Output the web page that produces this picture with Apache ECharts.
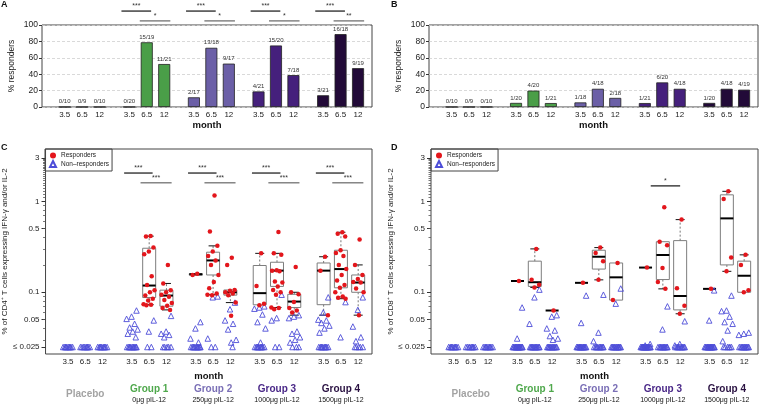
<!DOCTYPE html>
<html>
<head>
<meta charset="utf-8">
<script src="https://cdn.jsdelivr.net/npm/echarts@6/dist/echarts.min.js"></script>
<style>
  html, body { margin: 0; padding: 0; background: #fff; }
  #chart { width: 760px; height: 405px; }
</style>
</head>
<body>
<div id="chart"></div>
<script>
// ---- data ----
var months = ['3.5', '6.5', '12'];
var groupNames = ['Placebo', 'Group 1', 'Group 2', 'Group 3', 'Group 4'];
var groupDoses = ['', '0\u03bcg pIL-12', '250\u03bcg pIL-12', '1000\u03bcg pIL-12', '1500\u03bcg pIL-12'];

// panel A / B: % responders per group x month
var aPct = [0, 0, 0, 0, 78.9, 52.4, 11.8, 72.2, 52.9, 19.0, 75.0, 38.9, 14.3, 88.9, 47.4];
var aLabels = ['0/10', '0/9', '0/10', '0/20', '15/19', '11/21', '2/17', '13/18', '9/17', '4/21', '15/20', '7/18', '3/21', '16/18', '9/19'];
var bPct = [0, 0, 0, 5.0, 20.0, 4.8, 5.6, 22.2, 11.1, 4.8, 30.0, 22.2, 5.0, 22.2, 21.1];
var bLabels = ['0/10', '0/9', '0/10', '1/20', '4/20', '1/21', '1/18', '4/18', '2/18', '1/21', '6/20', '4/18', '1/20', '4/18', '4/19'];
var aStars = [['***', '*'], ['***', '*'], ['***', '*'], ['***', '**']];   // groups 1-4
var cStars = [['***', '***'], ['***', '***'], ['***', '***'], ['***', '***']];

// panel C (CD4): responders, non-responders above the floor, count at the floor
var FLOOR = 0.025;
var cd4Resp = [
  [], [], [],
  [], [0.415, 0.41, 0.31, 0.28, 0.262, 0.15, 0.12, 0.105, 0.1, 0.092, 0.085, 0.081, 0.074, 0.073, 0.072],
  [0.2, 0.125, 0.105, 0.1, 0.094, 0.089, 0.082, 0.076, 0.071, 0.067, 0.064],
  [0.16, 0.155], [1.16, 0.465, 0.324, 0.28, 0.25, 0.224, 0.2, 0.155, 0.13, 0.111, 0.097, 0.093, 0.094],
  [0.24, 0.2, 0.106, 0.104, 0.1, 0.097, 0.093, 0.077, 0.055],
  [0.268, 0.117, 0.075, 0.072], [0.46, 0.268, 0.258, 0.175, 0.172, 0.17, 0.131, 0.128, 0.116, 0.106, 0.1, 0.094, 0.068, 0.067, 0.065],
  [0.19, 0.1, 0.095, 0.078, 0.067, 0.063, 0.06],
  [0.246, 0.173, 0.056], [0.457, 0.44, 0.41, 0.29, 0.27, 0.25, 0.2, 0.18, 0.155, 0.135, 0.12, 0.112, 0.1, 0.09, 0.087, 0.085],
  [0.38, 0.2, 0.155, 0.14, 0.13, 0.128, 0.11, 0.1, 0.056]
];
var cd4Non = [
  [], [], [],
  [0.063, 0.054, 0.051, 0.045, 0.041, 0.039, 0.037, 0.035, 0.032], [0.049, 0.037], [0.055, 0.037, 0.035, 0.034, 0.032],
  [0.047, 0.04, 0.031, 0.028], [0.09, 0.088, 0.031], [0.077, 0.065, 0.049, 0.045, 0.039, 0.03, 0.028],
  [0.07, 0.068, 0.066, 0.057, 0.047, 0.04, 0.028], [0.094, 0.052, 0.049], [0.056, 0.054, 0.052, 0.037, 0.035, 0.032, 0.03, 0.028],
  [0.088, 0.06, 0.05, 0.049, 0.046, 0.043, 0.04, 0.036], [0.078, 0.032], [0.088, 0.064, 0.042, 0.032, 0.029]
];
var cd4Floor = [10, 9, 10, 11, 2, 5, 11, 2, 1, 10, 2, 3, 10, 0, 5];
// box stats [min, q1, median, q3, max]
var cd4Box = [
  null, null, null,
  null, [0.073, 0.0875, 0.1186, 0.305, 0.414], [0.064, 0.0703, 0.092, 0.1055, 0.125],
  [0.155, 0.155, 0.158, 0.16, 0.16], [0.094, 0.155, 0.224, 0.276, 0.324], [0.077, 0.093, 0.1, 0.106, 0.106],
  [0.072, 0.0728, 0.0978, 0.197, 0.268], [0.068, 0.116, 0.173, 0.214, 0.268], [0.056, 0.068, 0.079, 0.095, 0.1],
  [0.056, 0.073, 0.173, 0.21, 0.246], [0.085, 0.112, 0.18, 0.29, 0.457], [0.056, 0.1, 0.128, 0.155, 0.2]
];

// panel D (CD8)
var cd8Resp = [
  [], [], [],
  [0.133], [0.3, 0.137, 0.121, 0.113], [0.063],
  [0.127], [0.31, 0.27, 0.22, 0.137], [0.21, 0.082],
  [0.187], [0.86, 0.36, 0.33, 0.185, 0.13, 0.109], [0.63, 0.111, 0.071, 0.058],
  [0.109], [1.29, 1.06, 0.242, 0.17], [0.258, 0.2, 0.105, 0.1]
];
var cd8Non = [
  [], [], [],
  [0.068, 0.031], [0.107, 0.088, 0.045], [0.056, 0.054, 0.04, 0.038, 0.033, 0.031, 0.03],
  [0.092, 0.046], [0.094, 0.036, 0.029], [0.11, 0.075],
  [0.027, 0.026], [0.07, 0.039], [0.048, 0.027, 0.026],
  [0.105, 0.049], [0.092, 0.063, 0.062, 0.054, 0.047, 0.045, 0.038, 0.029], [0.036, 0.035, 0.034]
];
var cd8Floor = [10, 9, 10, 17, 13, 13, 15, 11, 14, 18, 12, 11, 17, 6, 12];
var cd8Box = [
  null, null, null,
  [0.133, 0.133, 0.133, 0.133, 0.133], [0.113, 0.116, 0.129, 0.22, 0.3], [0.063, 0.063, 0.063, 0.063, 0.063],
  [0.127, 0.127, 0.127, 0.127, 0.127], [0.137, 0.18, 0.246, 0.29, 0.31], [0.082, 0.082, 0.146, 0.21, 0.21],
  [0.187, 0.187, 0.187, 0.187, 0.187], [0.109, 0.138, 0.257, 0.36, 0.36], [0.058, 0.064, 0.091, 0.37, 0.63],
  [0.109, 0.109, 0.109, 0.109, 0.109], [0.17, 0.2, 0.65, 1.18, 1.29], [0.1, 0.1, 0.152, 0.22, 0.258]
];

var logTicks = [0.025, 0.05, 0.1, 0.5, 1, 3];
var logTickLabels = ['\u2264 0.025', '0.05', '0.1', '0.5', '1', '3'];

// ---- layout helpers ----
var GROUP_STEP = 3.7;
var X_MIN = -1.3, X_MAX = 17.6;
var slotPos = [];
for (var i = 0; i < 15; i++) slotPos.push(Math.floor(i / 3) * GROUP_STEP + (i % 3));
var groupPos = [0, 1, 2, 3, 4].map(function (g) { return g * GROUP_STEP + 1; });
var Y_LO = Math.log10(FLOOR) - 0.077, Y_HI = Math.log10(3) + 0.099;

var barColors = ['#999999', '#4a9e48', '#6b5fa7', '#45207c', '#220a38'];
var nameColors = ['#a3a3a3', '#4fa84c', '#7a6fb6', '#4a2888', '#2a1242'];
var FONT = 'Liberation Sans, Arial, sans-serif';

var minorTicks = [];
for (var m = 3; m <= 9; m++) minorTicks.push(Math.log10(m / 100));
for (m = 2; m <= 9; m++) minorTicks.push(Math.log10(m / 10));
for (m = 11; m <= 29; m++) minorTicks.push(Math.log10(m / 10));

function jitter(k, spread) { return ((((k + 1) * 0.618034) % 1) - 0.5) * spread; }
function slotLabel(v) {
  for (var i = 0; i < slotPos.length; i++) if (Math.abs(slotPos[i] - v) < 1e-6) return months[i % 3];
  return '';
}
function logLabel(v) {
  for (var i = 0; i < logTicks.length; i++) if (Math.abs(Math.log10(logTicks[i]) - v) < 1e-6) return logTickLabels[i];
  return '';
}
function groupLabel(v) {
  for (var g = 0; g < groupPos.length; g++) {
    if (Math.abs(groupPos[g] - v) < 1e-6) {
      if (g === 0) return '{p|' + groupNames[0] + '}';
      return '{g' + g + '|' + groupNames[g] + '}\n{d|' + groupDoses[g] + '}';
    }
  }
  return '';
}

function barData(pct) {
  return pct.map(function (v, i) {
    return { value: [slotPos[i], v], itemStyle: { color: barColors[Math.floor(i / 3)] } };
  });
}
function respPoints(list) {
  var out = [];
  list.forEach(function (vals, i) {
    vals.forEach(function (v, k) { out.push([slotPos[i] + jitter(k, 0.7), Math.log10(v)]); });
  });
  return out;
}
function nonPoints(list, floors) {
  var out = [];
  list.forEach(function (vals, i) {
    vals.forEach(function (v, k) { out.push([slotPos[i] + jitter(k + 2, 0.75), Math.log10(v)]); });
    for (var k = 0; k < floors[i]; k++) out.push([slotPos[i] + jitter(k + 5, 0.6), Math.log10(FLOOR)]);
  });
  return out;
}
function boxData(box) {
  var out = [];
  box.forEach(function (b, i) {
    if (b) out.push([slotPos[i]].concat(b.map(function (v) { return Math.log10(v); })));
  });
  return out;
}
function sigList(stars, spans, levels) {
  var out = [];
  stars.forEach(function (pair, gi) {
    pair.forEach(function (s, lv) {
      var base = (gi + 1) * GROUP_STEP;
      out.push({ x1: base + spans[lv][0], x2: base + spans[lv][1], y: levels[lv], stars: s, level: lv });
    });
  });
  return out;
}

function renderBox(params, api) {
  var x = api.value(0);
  var ys = [1, 2, 3, 4, 5].map(function (k) { return api.coord([x, api.value(k)])[1]; });
  var cx = api.coord([x, api.value(3)])[0];
  var hw = 6.5, cw = 4.5, kids = [];
  var single = Math.abs(ys[0] - ys[4]) < 0.5;
  if (!single) {
    if (ys[0] - ys[1] > 0.5) {
      kids.push({ type: 'line', shape: { x1: cx, y1: ys[1], x2: cx, y2: ys[0] }, style: { stroke: '#777', lineWidth: 1, lineDash: [2, 2] } });
      kids.push({ type: 'line', shape: { x1: cx - cw, y1: ys[0], x2: cx + cw, y2: ys[0] }, style: { stroke: '#111', lineWidth: 1 } });
    }
    if (ys[3] - ys[4] > 0.5) {
      kids.push({ type: 'line', shape: { x1: cx, y1: ys[3], x2: cx, y2: ys[4] }, style: { stroke: '#777', lineWidth: 1, lineDash: [2, 2] } });
      kids.push({ type: 'line', shape: { x1: cx - cw, y1: ys[4], x2: cx + cw, y2: ys[4] }, style: { stroke: '#111', lineWidth: 1 } });
    }
    kids.push({ type: 'rect', shape: { x: cx - hw, y: ys[3], width: 2 * hw, height: Math.max(ys[1] - ys[3], 1.5) },
      style: { fill: 'none', stroke: '#7d7d7d', lineWidth: 1 } });
  }
  kids.push({ type: 'line', shape: { x1: cx - hw, y1: ys[2], x2: cx + hw, y2: ys[2] }, style: { stroke: '#000', lineWidth: 2 } });
  return { type: 'group', children: kids };
}

function sigSeries(list, xi, yi) {
  return {
    type: 'custom', xAxisIndex: xi, yAxisIndex: yi, silent: true, clip: false, z: 5,
    data: list.map(function (s) { return [s.x1, s.x2, s.y]; }),
    renderItem: function (params, api) {
      var s = list[params.dataIndex];
      var p1 = api.coord([api.value(0), api.value(2)]);
      var p2 = api.coord([api.value(1), api.value(2)]);
      return { type: 'group', children: [
        { type: 'line', shape: { x1: p1[0], y1: p1[1], x2: p2[0], y2: p2[1] },
          style: { stroke: s.level ? '#666' : '#111', lineWidth: 1.2 } },
        { type: 'text', style: { text: s.stars, x: (p1[0] + p2[0]) / 2, y: p1[1] - 1, align: 'center', verticalAlign: 'bottom',
          fontSize: 7, fontFamily: FONT, fill: '#333' } }
      ] };
    }
  };
}

var aSig = sigList(aStars, [[-0.45, 1.25], [0.6, 2.35]], [117, 105]);
var cSig = sigList(cStars, [[-0.45, 1.2], [0.5, 2.3]], [Math.log10(2.05), Math.log10(1.6)]);
var dSig = [{ x1: 3 * GROUP_STEP + 0.3, x2: 3 * GROUP_STEP + 2.0, y: Math.log10(1.48), stars: '*', level: 0 }];

// ---- axes ----
function monthAxis(gi, gap) {
  return {
    gridIndex: gi, type: 'value', min: X_MIN, max: X_MAX, position: 'bottom',
    axisLine: { show: false, onZero: false }, axisTick: { show: false }, splitLine: { show: false },
    axisLabel: { customValues: slotPos, formatter: slotLabel, fontSize: 8, color: '#222', margin: 4 },
    name: 'month', nameLocation: 'middle', nameGap: gap,
    nameTextStyle: { fontSize: 9.5, fontWeight: 'bold', color: '#111' }
  };
}
function groupAxis(gi) {
  var rich = {
    p: { fontSize: 10, fontWeight: 'bold', color: nameColors[0], lineHeight: 22, fontFamily: FONT },
    d: { fontSize: 7, color: '#111', lineHeight: 11, fontFamily: FONT }
  };
  for (var g = 1; g < 5; g++) rich['g' + g] = { fontSize: 10, fontWeight: 'bold', color: nameColors[g], lineHeight: 12, fontFamily: FONT };
  return {
    gridIndex: gi, type: 'value', min: X_MIN, max: X_MAX, position: 'bottom',
    axisLine: { show: false, onZero: false }, axisTick: { show: false }, splitLine: { show: false },
    axisLabel: { customValues: groupPos, formatter: groupLabel, margin: 29, rich: rich }
  };
}
function pctAxis(gi) {
  return {
    gridIndex: gi, type: 'value', min: 0, max: 100, interval: 20, position: 'left',
    axisLine: { show: false, onZero: false },
    axisTick: { show: true, length: 3, lineStyle: { color: '#333' } },
    axisLabel: { fontSize: 8.5, color: '#222', margin: 4 },
    splitLine: { show: true, lineStyle: { type: [3, 2], color: '#cfcfcf', width: 0.8 } },
    name: '% responders', nameLocation: 'middle', nameGap: 26,
    nameTextStyle: { fontSize: 8.5, color: '#222' }
  };
}
function logAxis(gi, title, gap) {
  var vals = logTicks.map(function (v) { return Math.log10(v); });
  return {
    gridIndex: gi, type: 'value', min: Y_LO, max: Y_HI, position: 'left',
    axisLine: { show: false, onZero: false }, splitLine: { show: false },
    axisTick: { show: true, length: 4, customValues: vals, lineStyle: { color: '#333' } },
    axisLabel: { customValues: vals, formatter: logLabel, fontSize: 8, color: '#222', margin: 6 },
    name: title, nameLocation: 'middle', nameGap: gap,
    nameTextStyle: { fontSize: 8, color: '#222' }
  };
}
function minorAxis(gi) {
  return {
    gridIndex: gi, type: 'value', min: Y_LO, max: Y_HI, position: 'left',
    axisLine: { show: false, onZero: false }, splitLine: { show: false }, axisLabel: { show: false },
    axisTick: { show: true, length: 2.5, customValues: minorTicks, lineStyle: { color: '#555', width: 0.8 } }
  };
}

function legendAt(left) {
  return {
    data: ['Responders', 'Non\u2013responders'], orient: 'vertical', left: left, top: 149,
    borderColor: '#444', borderWidth: 1, padding: [3, 3, 3, 4], itemGap: 1,
    itemWidth: 6, itemHeight: 6, textStyle: { fontSize: 6.5, color: '#222' },
    selectedMode: false
  };
}

function respSeries(list, idx) {
  return { name: 'Responders', type: 'scatter', xAxisIndex: idx, yAxisIndex: idx, z: 4,
    symbol: 'circle', symbolSize: 4.5, itemStyle: { color: '#e3161c', opacity: 1 }, data: respPoints(list) };
}
function nonSeries(list, floors, idx) {
  return { name: 'Non\u2013responders', type: 'scatter', xAxisIndex: idx, yAxisIndex: idx, z: 3,
    symbol: 'triangle', symbolSize: 5.5,
    itemStyle: { color: 'rgba(0,0,0,0)', borderColor: '#4d4dd8', borderWidth: 0.9, opacity: 1 },
    data: nonPoints(list, floors) };
}
function boxSeries(box, idx) {
  return { type: 'custom', xAxisIndex: idx, yAxisIndex: idx, silent: true, z: 2,
    data: boxData(box), renderItem: renderBox, encode: { x: 0, y: [1, 2, 3, 4, 5] } };
}

var cd4Title = '% of CD4\u207a T cells expressing IFN-\u03b3 and/or IL-2';
var cd8Title = '% of CD8\u207a T cells expressing IFN-\u03b3 and/or IL-2';
var frame = { show: true, borderColor: '#444', borderWidth: 1, backgroundColor: 'transparent' };

var option = {
  animation: false,
  textStyle: { fontFamily: FONT },
  title: [
    { text: 'A', left: 1, top: 0, padding: 0, textStyle: { fontSize: 9, fontWeight: 'bold', color: '#111' } },
    { text: 'B', left: 391, top: 0, padding: 0, textStyle: { fontSize: 9, fontWeight: 'bold', color: '#111' } },
    { text: 'C', left: 1, top: 143, padding: 0, textStyle: { fontSize: 9, fontWeight: 'bold', color: '#111' } },
    { text: 'D', left: 391, top: 143, padding: 0, textStyle: { fontSize: 9, fontWeight: 'bold', color: '#111' } }
  ],
  legend: [legendAt(45), legendAt(431)],
  grid: [
    Object.assign({ left: 42, top: 25, width: 330, height: 82 }, frame),
    Object.assign({ left: 429, top: 25, width: 329, height: 82 }, frame),
    Object.assign({ left: 45, top: 149, width: 327, height: 205 }, frame),
    Object.assign({ left: 431, top: 149, width: 327, height: 205 }, frame)
  ],
  xAxis: [monthAxis(0, 13), monthAxis(1, 13), monthAxis(2, 14), monthAxis(3, 14), groupAxis(2), groupAxis(3)],
  yAxis: [pctAxis(0), pctAxis(1), logAxis(2, cd4Title, 32), logAxis(3, cd8Title, 36), minorAxis(2), minorAxis(3)],
  series: [
    { type: 'bar', xAxisIndex: 0, yAxisIndex: 0, barWidth: 12, data: barData(aPct),
      itemStyle: { borderColor: '#222', borderWidth: 0.8 },
      label: { show: true, position: 'top', distance: 2, fontSize: 6, color: '#333',
        formatter: function (p) { return aLabels[p.dataIndex]; } } },
    { type: 'bar', xAxisIndex: 1, yAxisIndex: 1, barWidth: 12, data: barData(bPct),
      itemStyle: { borderColor: '#222', borderWidth: 0.8 },
      label: { show: true, position: 'top', distance: 2, fontSize: 6, color: '#333',
        formatter: function (p) { return bLabels[p.dataIndex]; } } },
    sigSeries(aSig, 0, 0),
    boxSeries(cd4Box, 2),
    boxSeries(cd8Box, 3),
    nonSeries(cd4Non, cd4Floor, 2),
    nonSeries(cd8Non, cd8Floor, 3),
    respSeries(cd4Resp, 2),
    respSeries(cd8Resp, 3),
    sigSeries(cSig, 2, 2),
    sigSeries(dSig, 3, 3)
  ]
};

var chart = echarts.init(document.getElementById('chart'), null, { renderer: 'canvas' });
chart.setOption(option);
</script>
</body>
</html>
